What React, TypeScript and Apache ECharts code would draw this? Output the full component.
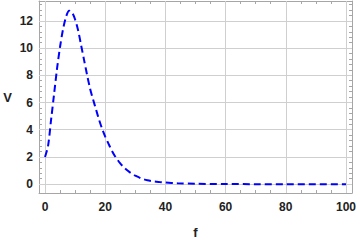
import React, { useEffect, useRef } from "react";
import * as echarts from "echarts";

const fValues = [0, 1, 2, 3, 4, 5, 6, 7, 8, 9, 10, 11, 12, 13, 14, 15, 16, 17, 18, 19, 20, 21, 22, 23, 24, 25, 26, 27, 28, 29, 30, 32, 34, 36, 38, 40, 44, 50, 60, 70, 80, 90, 100];
const vValues = [2.0, 2.8, 4.7, 6.6, 8.5, 10.1, 11.4, 12.3, 12.75, 12.6, 12.1, 11.3, 10.2, 9.1, 8.0, 7.0, 6.2, 5.45, 4.7, 4.05, 3.5, 3.02, 2.55, 2.15, 1.82, 1.53, 1.28, 1.07, 0.9, 0.75, 0.62, 0.42, 0.29, 0.21, 0.16, 0.12, 0.07, 0.03, 0.01, 0, 0, 0, 0];
const xTickLabels = [0, 20, 40, 60, 80, 100];
const xTicks = [0, 5, 10, 15, 20, 25, 30, 35, 40, 45, 50, 55, 60, 65, 70, 75, 80, 85, 90, 95, 100];
const yTickLabels = [0, 2, 4, 6, 8, 10, 12];
const yTicks = [0, 0.4, 0.8, 1.2, 1.6, 2, 2.4, 2.8, 3.2, 3.6, 4, 4.4, 4.8, 5.2, 5.6, 6, 6.4, 6.8, 7.2, 7.6, 8, 8.4, 8.8, 9.2, 9.6, 10, 10.4, 10.8, 11.2, 11.6, 12, 12.4, 12.8, 13.2];

const frameColor = "#a6a6a6";
const gridColor = "#cfcfcf";
const labelFont = { fontFamily: "Liberation Sans, Arial, sans-serif", fontSize: 12, fontWeight: "bold" as const, color: "#222" };

export default function App() {
  const ref = useRef<HTMLDivElement>(null);
  useEffect(() => {
    if (!ref.current) return;
    const chart = echarts.init(ref.current, null, { renderer: "svg" });
    const xBase = (pos: string, labels: boolean) => ({
      type: "value",
      position: pos,
      min: -2,
      max: 102,
      axisLine: { show: true, onZero: false, lineStyle: { color: frameColor, width: 1 } },
      axisTick: { show: true, inside: true, length: 3, customValues: xTicks, lineStyle: { color: frameColor } },
      axisLabel: { show: labels, customValues: xTickLabels, margin: 8, ...labelFont },
      splitLine: { show: false },
    });
    const yBase = (pos: string, labels: boolean) => ({
      type: "value",
      position: pos,
      min: -0.65,
      max: 13.46,
      axisLine: { show: true, onZero: false, lineStyle: { color: frameColor, width: 1 } },
      axisTick: { show: true, inside: true, length: 3, customValues: yTicks, lineStyle: { color: frameColor } },
      axisLabel: { show: labels, customValues: yTickLabels, margin: 6, ...labelFont },
      splitLine: { show: false },
    });
    chart.setOption({
      animation: false,
      backgroundColor: "#fff",
      grid: { left: 39, right: 8, top: 1, bottom: 49, containLabel: false, outerBoundsMode: "none" },
      xAxis: [
        {
          ...xBase("bottom", true),
          name: "f",
          nameLocation: "middle",
          nameGap: 33,
          nameTextStyle: { ...labelFont, fontSize: 13 },
        },
        xBase("top", false),
      ],
      yAxis: [
        {
          ...yBase("left", true),
          name: "V",
          nameLocation: "middle",
          nameRotate: 0,
          nameGap: 27,
          nameTextStyle: { ...labelFont, fontSize: 13 },
        },
        yBase("right", false),
      ],
      series: [
        {
          type: "line",
          data: [],
          z: 1,
          silent: true,
          markLine: {
            z: 1,
            silent: true,
            symbol: "none",
            animation: false,
            label: { show: false },
            lineStyle: { color: gridColor, width: 1, type: "solid" },
            data: [
              ...xTickLabels.map((v) => ({ xAxis: v })),
              ...yTickLabels.map((v) => ({ yAxis: v })),
            ],
          },
        },
        {
          type: "line",
          z: 3,
          data: fValues.map((f, i) => [f, vValues[i]]),
          showSymbol: false,
          smooth: 0.3,
          lineStyle: { color: "#0000ff", width: 2, type: [7, 4] },
        },
      ],
    });
    return () => chart.dispose();
  }, []);
  return <div ref={ref} style={{ position: "fixed", left: 0, top: 0, width: 360, height: 242 }} />;
}
